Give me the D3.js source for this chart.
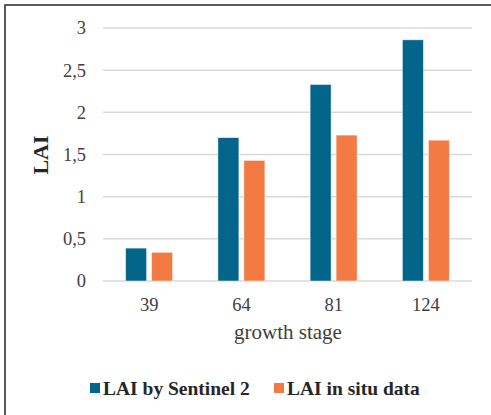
<!DOCTYPE html>
<html>
<head>
<meta charset="utf-8">
<script src="https://cdn.jsdelivr.net/npm/d3@7"></script>
<style>
  html, body { margin: 0; padding: 0; background: #fff; }
  svg { display: block; }
</style>
</head>
<body>
<svg id="chart" width="491" height="415"></svg>
<script>
// Growth stages and LAI values per source
const stages = ["39", "64", "81", "124"];
const sentinel = [0.39, 1.70, 2.33, 2.86];
const inSitu = [0.34, 1.43, 1.73, 1.67];
const seriesNames = ["LAI by Sentinel 2", "LAI in situ data"];
const yTicks = [0, 0.5, 1, 1.5, 2, 2.5, 3];

const colors = ["#04658a", "#f47a43"];
const serif = "Liberation Serif, Times New Roman, serif";
const svg = d3.select("#chart");
const W = 491, H = 415;

// Frame around the chart area
svg.append("rect")
  .attr("x", 5).attr("y", 5)
  .attr("width", W + 10).attr("height", H + 10)
  .attr("fill", "#fff")
  .attr("stroke", "#333").attr("stroke-width", 1.6);

const plot = { left: 103, right: 472, top: 28, bottom: 281 };

const x = d3.scaleBand().domain(stages).range([plot.left, plot.right]);
const y = d3.scaleLinear().domain([0, 3]).range([plot.bottom, plot.top]);
const barW = 21, gap = 5;

// Horizontal gridlines
svg.append("g").selectAll("line").data(yTicks).join("line")
  .attr("x1", plot.left).attr("x2", plot.right)
  .attr("y1", d => y(d)).attr("y2", d => y(d))
  .attr("stroke", "#d9d9d9").attr("stroke-width", 1.5);

// Y axis tick labels
const fmt = d => String(d).replace(".", ",");
const yAxis = d3.axisLeft(y).tickValues(yTicks).tickFormat(fmt).tickSize(0).tickPadding(0);
const gy = svg.append("g").attr("transform", `translate(86,0)`).call(yAxis);
gy.select(".domain").remove();
gy.selectAll("text")
  .attr("font-family", serif)
  .attr("font-size", 18.5).attr("fill", "#404040");

// Bars
const data = [sentinel, inSitu];
data.forEach((vals, si) => {
  svg.append("g").selectAll("rect").data(stages).join("rect")
    .attr("x", (d, i) => x(d) + x.bandwidth() / 2 + (si === 0 ? -gap / 2 - barW : gap / 2))
    .attr("y", (d, i) => y(vals[i]))
    .attr("width", barW)
    .attr("height", (d, i) => y(0) - y(vals[i]))
    .attr("fill", colors[si])
    .attr("stroke", "#fff").attr("stroke-opacity", 0.6).attr("stroke-width", 0.8);
});

// X axis category labels
const xAxis = d3.axisBottom(x).tickSize(0).tickPadding(0);
const gx = svg.append("g").attr("transform", `translate(0,298)`).call(xAxis);
gx.select(".domain").remove();
gx.selectAll("text")
  .attr("font-family", serif)
  .attr("font-size", 18.5).attr("fill", "#404040");

// Axis titles
svg.append("text")
  .attr("x", (plot.left + plot.right) / 2 + 0.5).attr("y", 339)
  .attr("text-anchor", "middle")
  .attr("font-family", serif)
  .attr("font-size", 21).attr("fill", "#404040")
  .text("growth stage");

svg.append("text")
  .attr("transform", "translate(48,155) rotate(-90)")
  .attr("text-anchor", "middle")
  .attr("font-family", serif)
  .attr("font-size", 22).attr("font-weight", "bold").attr("fill", "#262626")
  .text("LAI");

// Legend
const legendX = [90, 274];
seriesNames.forEach((name, i) => {
  const g = svg.append("g").attr("transform", `translate(${legendX[i]},388)`);
  g.append("rect").attr("x", 0).attr("y", -5).attr("width", 10).attr("height", 10).attr("fill", colors[i]);
  g.append("text").attr("x", 13).attr("y", 6.5)
    .attr("font-family", serif)
    .attr("font-size", 19.5).attr("font-weight", "bold").attr("fill", "#262626")
    .text(name);
});
</script>
</body>
</html>
